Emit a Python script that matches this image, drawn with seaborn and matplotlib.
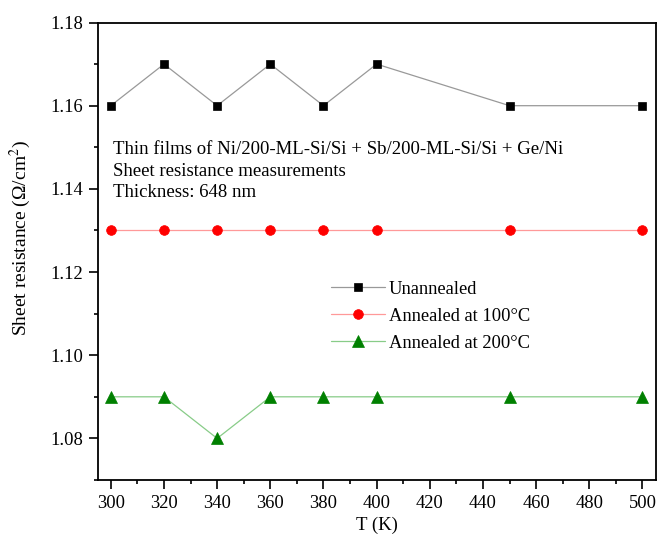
import matplotlib
matplotlib.use("Agg")
import matplotlib.pyplot as plt
import seaborn as sns
import pandas as pd
from matplotlib.ticker import MultipleLocator, AutoMinorLocator

temps = [300, 320, 340, 360, 380, 400, 450, 500]
unannealed = [1.16, 1.17, 1.16, 1.17, 1.16, 1.17, 1.16, 1.16]
annealed_100 = [1.13, 1.13, 1.13, 1.13, 1.13, 1.13, 1.13, 1.13]
annealed_200 = [1.09, 1.09, 1.08, 1.09, 1.09, 1.09, 1.09, 1.09]
series_names = ["Unannealed", "Annealed at 100°C", "Annealed at 200°C"]

sns.set_theme(style="ticks")
plt.rcParams['font.family'] = ['Liberation Serif', 'DejaVu Serif']
plt.rcParams['mathtext.fontset'] = 'stix'
plt.rcParams['text.color'] = 'black'
plt.rcParams['axes.labelcolor'] = 'black'

fig = plt.figure(figsize=(6.59, 5.36), dpi=100)
ax = fig.add_axes([0.148, 0.1045, 0.847, 0.8535])

styles = [
    dict(marker="s", color="#999999", mfc="black", mec="black", ms=6),
    dict(marker="o", color="#ff9999", mfc="red", mec="red", ms=7),
    dict(marker="^", color="#88cc88", mfc="green", mec="green", ms=8),
]
for name, vals, st in zip(series_names, [unannealed, annealed_100, annealed_200], styles):
    df = pd.DataFrame({"T": temps, "R": vals})
    sns.lineplot(data=df, x="T", y="R", ax=ax, label=name, color=st["color"],
                 marker=st["marker"], markerfacecolor=st["mfc"], markeredgecolor=st["mec"],
                 markersize=st["ms"], linewidth=0.9, markeredgewidth=0.5)

ax.set_xlim(295, 505)
ax.set_ylim(1.07, 1.18)
ax.xaxis.set_major_locator(MultipleLocator(20))
ax.xaxis.set_minor_locator(AutoMinorLocator(2))
ax.yaxis.set_major_locator(MultipleLocator(0.02))
ax.yaxis.set_minor_locator(AutoMinorLocator(2))
ax.yaxis.set_major_formatter(matplotlib.ticker.FormatStrFormatter("%.2f"))
ax.tick_params(which="major", direction="out", length=6.5, width=1.2, labelsize=13.3,
               colors="black", pad=4)
ax.tick_params(which="minor", direction="out", length=3, width=1.2, colors="black")
ax.tick_params(top=False, right=False)
for s in ax.spines.values():
    s.set_linewidth(1.3)
    s.set_color("black")

ax.set_xlabel("T (K)", fontsize=13.5, labelpad=4, color="black")
ax.set_ylabel("Sheet resistance (Ω/cm$^2$)", fontsize=14, color="black")
ax.yaxis.set_label_coords(-0.116, 0.53)

ax.text(0.028, 0.675, "Thin films of Ni/200-ML-Si/Si + Sb/200-ML-Si/Si + Ge/Ni\n"
        "Sheet resistance measurements\nThickness: 648 nm",
        transform=ax.transAxes, fontsize=13.5, va="center", ha="left", linespacing=1.33,
        color="black")

leg = ax.legend(loc="center left", bbox_to_anchor=(0.389, 0.358), frameon=False, fontsize=13.3,
                handlelength=2.9, handletextpad=0.2, labelspacing=0.55)
for t in leg.get_texts():
    t.set_color("black")

fig.savefig("out.png", dpi=100)
